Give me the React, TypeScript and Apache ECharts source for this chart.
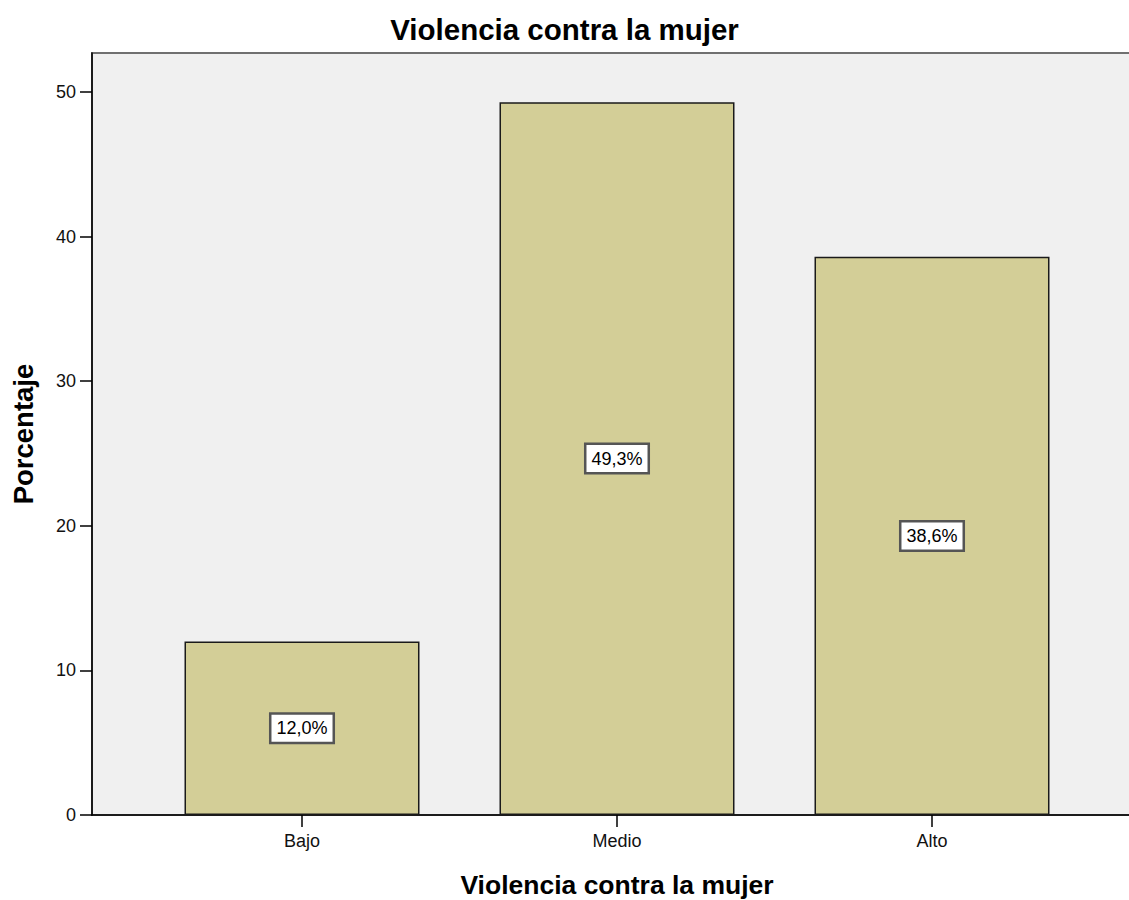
import React, { useEffect, useRef } from "react";
import * as echarts from "echarts";

const categories = ["Bajo", "Medio", "Alto"];
const percentages = [12.0, 49.3, 38.6];
const yTicks = [0, 10, 20, 30, 40, 50];
const yMax = 52.7;
const chartTitle = "Violencia contra la mujer";
const xAxisTitle = "Violencia contra la mujer";
const yAxisTitle = "Porcentaje";

const FONT = "'Liberation Sans', Arial, sans-serif";

export default function App() {
  const ref = useRef<HTMLDivElement>(null);
  useEffect(() => {
    if (!ref.current) return;
    const chart = echarts.init(ref.current, undefined, { renderer: "svg" });
    chart.setOption({
      animation: false,
      backgroundColor: "#ffffff",
      title: {
        text: chartTitle,
        left: "center",
        top: 9,
        textStyle: { fontFamily: FONT, fontSize: 29.5, fontWeight: "bold", color: "#000" },
      },
      grid: [
        {
          left: 92,
          right: -3,
          top: 53,
          bottom: 85,
          show: true,
          backgroundColor: "#f0f0f0",
          borderColor: "#707070",
          borderWidth: 2,
          outerBoundsMode: "none",
          containLabel: false,
        },
        {
          left: 144.5,
          right: 39.5,
          top: 53,
          bottom: 85,
          outerBoundsMode: "none",
          containLabel: false,
        },
      ],
      xAxis: [
        {
          type: "value",
          gridIndex: 0,
          min: 0,
          max: 1,
          axisLine: { show: true, onZero: false, lineStyle: { color: "#000", width: 1.5 } },
          axisTick: { show: false },
          axisLabel: { show: false },
          splitLine: { show: false },
        },
        {
          type: "category",
          gridIndex: 1,
          data: categories,
          axisLine: { show: false },
          axisTick: { show: true, alignWithLabel: true, length: 12, lineStyle: { color: "#000", width: 1.5 } },
          axisLabel: { fontFamily: FONT, fontSize: 18, color: "#111", margin: 17 },
          name: xAxisTitle,
          nameLocation: "middle",
          nameGap: 56,
          nameTextStyle: { fontFamily: FONT, fontSize: 26.5, fontWeight: "bold", color: "#000" },
        },
      ],
      yAxis: [
        {
          type: "value",
          gridIndex: 0,
          min: 0,
          max: yMax,
          axisLine: { show: true, onZero: false, lineStyle: { color: "#000", width: 1.5 } },
          axisTick: { show: true, customValues: yTicks, length: 12, lineStyle: { color: "#000", width: 1.5 } },
          axisLabel: { customValues: yTicks, fontFamily: FONT, fontSize: 18, color: "#111", margin: 16 },
          splitLine: { show: false },
          name: yAxisTitle,
          nameLocation: "middle",
          nameGap: 55,
          nameRotate: 90,
          nameTextStyle: { fontFamily: FONT, fontSize: 27.5, fontWeight: "bold", color: "#000" },
        },
        {
          type: "value",
          gridIndex: 1,
          min: 0,
          max: yMax,
          show: false,
        },
      ],
      series: [
        {
          type: "bar",
          xAxisIndex: 1,
          yAxisIndex: 1,
          data: percentages,
          barWidth: "74.6%",
          itemStyle: { color: "#d3ce97", borderColor: "#1a1a1a", borderWidth: 1.5 },
          label: {
            show: true,
            position: "inside",
            formatter: (p: any) => `${Number(p.value).toFixed(1).replace(".", ",")}%`,
            fontFamily: FONT,
            fontSize: 18,
            color: "#000",
            backgroundColor: "#ffffff",
            borderColor: "#555",
            borderWidth: 2.5,
            padding: [5, 5, 4, 5],
          },
        },
      ],
    });
    return () => chart.dispose();
  }, []);
  return (
    <div
      ref={ref}
      style={{ position: "fixed", left: 0, top: 0, width: 1129, height: 900 }}
    />
  );
}
